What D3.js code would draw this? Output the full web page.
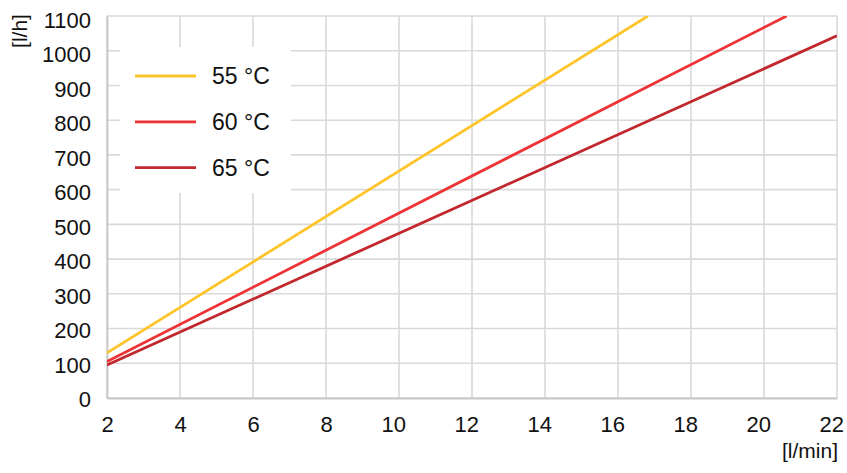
<!DOCTYPE html>
<html>
<head>
<meta charset="utf-8">
<script src="https://cdn.jsdelivr.net/npm/d3@7"></script>
<style>
  html, body { margin: 0; padding: 0; background: #fff; }
  svg text { font-family: "Liberation Sans", Arial, sans-serif; fill: #111; }
</style>
</head>
<body>
<svg id="chart" width="847" height="473"></svg>
<script>
const xTicks = [2, 4, 6, 8, 10, 12, 14, 16, 18, 20, 22];
const yTicks = [0, 100, 200, 300, 400, 500, 600, 700, 800, 900, 1000, 1100];
const seriesNames = ["55 °C", "60 °C", "65 °C"];
const seriesColors = ["#FDC52A", "#EE3337", "#C1272D"];
const flow55 = [[2, 130], [16.82, 1100]];
const flow60 = [[2, 105], [20.62, 1100]];
const flow65 = [[2, 95], [22, 1043]];
const seriesData = [flow55, flow60, flow65];
const xLabel = "[l/min]";
const yLabel = "[l/h]";

const svg = d3.select("#chart");
const m = { left: 107, right: 10, top: 16, bottom: 75 };
const W = 847, H = 473;
const x = d3.scaleLinear().domain([2, 22]).range([m.left, W - m.right]);
const y = d3.scaleLinear().domain([0, 1100]).range([H - m.bottom, m.top]);

const gridColor = "#d9d9d9";
svg.append("g").selectAll("line").data(xTicks).join("line")
  .attr("x1", d => x(d)).attr("x2", d => x(d))
  .attr("y1", y(0)).attr("y2", y(1100))
  .attr("stroke", gridColor).attr("stroke-width", 1.6);
svg.append("g").selectAll("line").data(yTicks).join("line")
  .attr("x1", x(2)).attr("x2", x(22))
  .attr("y1", d => y(d)).attr("y2", d => y(d))
  .attr("stroke", gridColor).attr("stroke-width", 1.6);

const fmt = d3.format("d");
const xAxis = d3.axisBottom(x).tickValues(xTicks).tickFormat(fmt).tickSize(0).tickPadding(18);
const gx = svg.append("g").attr("transform", `translate(0,${y(0)})`).call(xAxis);
gx.select(".domain").attr("stroke", "#c8c8c8").attr("stroke-width", 1.8);
gx.selectAll("text").attr("font-size", 22)
  .attr("text-anchor", d => d >= 10 ? "end" : "middle")
  .attr("dx", d => d >= 10 ? 6.5 : 0);

const yAxis = d3.axisLeft(y).tickValues(yTicks).tickFormat(fmt).tickSize(0).tickPadding(16);
const gy = svg.append("g").attr("transform", `translate(${x(2)},0)`).call(yAxis);
gy.select(".domain").attr("stroke", "#c8c8c8").attr("stroke-width", 1.8);
gy.selectAll("text").attr("font-size", 22).attr("dy", d => (0.35 * 22 + 1 + d / 1100 * 2.5) + "px");

const clip = svg.append("clipPath").attr("id", "plot").append("rect")
  .attr("x", x(2)).attr("y", y(1100)).attr("width", x(22) - x(2)).attr("height", y(0) - y(1100));
const line = d3.line().x(d => x(d[0])).y(d => y(d[1]));
svg.append("g").attr("clip-path", "url(#plot)").selectAll("path").data(seriesData).join("path")
  .attr("d", line).attr("fill", "none")
  .attr("stroke", (d, i) => seriesColors[i]).attr("stroke-width", 2.8);

const lg = svg.append("g");
lg.append("rect").attr("x", 120).attr("y", 47).attr("width", 171).attr("height", 146).attr("fill", "#fff");
const items = lg.selectAll("g").data(seriesNames).join("g")
  .attr("transform", (d, i) => `translate(135,${76 + i * 45.8})`);
items.append("line").attr("x1", 0).attr("x2", 61).attr("y1", 0).attr("y2", 0)
  .attr("stroke", (d, i) => seriesColors[i]).attr("stroke-width", 2.8);
items.append("text").attr("x", 77).attr("dy", "0.36em").attr("font-size", 23).text(d => d);

svg.append("text").attr("x", 838).attr("y", 458).attr("text-anchor", "end")
  .attr("font-size", 21).text(xLabel);
svg.append("text").attr("transform", "translate(27,31) rotate(-90)")
  .attr("text-anchor", "middle").attr("font-size", 21).text(yLabel);
</script>
</body>
</html>
